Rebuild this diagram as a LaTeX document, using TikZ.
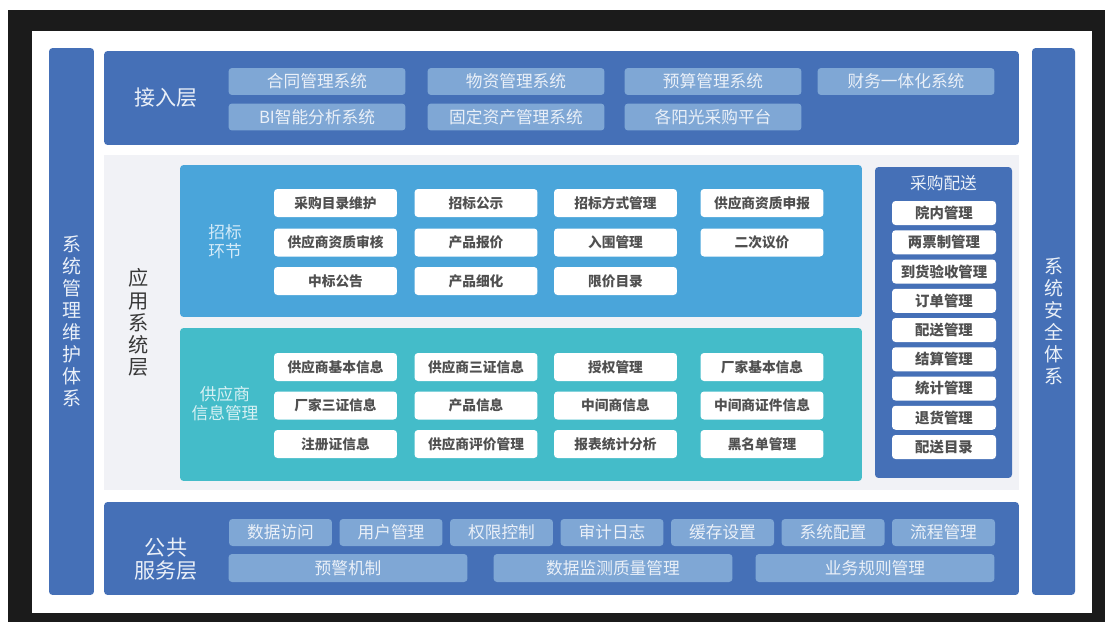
\documentclass[tikz,border=0pt]{standalone}
\usepackage{fontspec}
\setmainfont{Noto Sans CJK SC}
\usepackage{tikz}

\definecolor{framedark}{HTML}{1B1B1B}
\definecolor{layerblue}{HTML}{4570B7}
\definecolor{itemblue}{HTML}{7FA7D5}
\definecolor{itemtext}{HTML}{EAF0F8}
\definecolor{midgray}{HTML}{F1F2F6}
\definecolor{bidblue}{HTML}{4AA5DA}
\definecolor{supteal}{HTML}{44BCC9}
\definecolor{boxtext}{HTML}{505050}
\definecolor{bidlabel}{HTML}{D5EBF8}
\definecolor{suplabel}{HTML}{D8F1F4}

\tikzset{
  layerbox/.style={fill=layerblue, rounded corners=2pt, inner sep=0pt},
  topitem/.style={fill=itemblue, text=itemtext, rounded corners=2pt, inner sep=0pt,
    minimum width=3.54cm, minimum height=0.54cm, font=\fontsize{9.5}{11}\selectfont},
  wbox/.style={fill=white, text=boxtext, rounded corners=2pt, inner sep=0pt,
    minimum width=2.46cm, minimum height=0.56cm, font=\fontsize{7.8}{9}\selectfont\bfseries},
  psbox/.style={wbox, minimum width=2.08cm, minimum height=0.48cm,
    font=\fontsize{8.2}{9}\selectfont\bfseries},
  pubitem/.style={topitem, minimum width=2.06cm},
  pubwide/.style={topitem, minimum width=4.78cm, minimum height=0.56cm},
  sidebar/.style={layerbox, minimum width=0.9cm, minimum height=10.94cm, text=itemtext,
    align=center, font=\fontsize{10.8}{12.5}\selectfont},
  sectlbl/.style={align=center, font=\fontsize{9.5}{10.8}\selectfont},
  layerlbl/.style={text=itemtext, align=center, font=\fontsize{12}{13.2}\selectfont},
}

\begin{document}
\begin{tikzpicture}[x=0.02cm, y=-0.02cm]
  % frame
  \fill[white] (0,0) rectangle (1105,622);
  \fill[framedark] (8,10) rectangle (1105,622);
  \fill[white] (32,31) rectangle (1092,613);
  \useasboundingbox (0,0) rectangle (1105,622);

  % side bars
  \node[sidebar] (maint) at (71.5,321.5) {系\\统\\管\\理\\维\\护\\体\\系};
  \node[sidebar, minimum width=0.86cm] (safety) at (1053.5,321.5) {系\\统\\安\\全\\体\\系};

  % access layer
  \node[layerbox, minimum width=18.3cm, minimum height=1.88cm] (access) at (561.5,98) {};
  \node[layerlbl] (accesslbl) at (166,98) {接入层};
  \node[topitem] (contract) at (317,81.5) {合同管理系统};
  \node[topitem] (material) at (516,81.5) {物资管理系统};
  \node[topitem] (budget) at (713,81.5) {预算管理系统};
  \node[topitem] (finance) at (906,81.5) {财务一体化系统};
  \node[topitem] (bi) at (317,117) {BI智能分析系统};
  \node[topitem] (assets) at (516,117) {固定资产管理系统};
  \node[topitem] (sunshine) at (713,117) {各阳光采购平台};

  % application layer
  \node[fill=midgray, inner sep=0pt, minimum width=18.3cm, minimum height=6.7cm] (app) at (561.5,322.5) {};
  \node[text=black!78, align=center, font=\fontsize{11.5}{12.6}\selectfont] (applbl) at (139,322.5) {应\\用\\系\\统\\层};

  % bidding
  \node[fill=bidblue, rounded corners=2pt, inner sep=0pt, minimum width=13.64cm, minimum height=3.04cm] (bid) at (521,241) {};
  \node[sectlbl, text=bidlabel] (bidlbl) at (225,242) {招标\\环节};
  \node[wbox] (catalog) at (335.5,203) {采购目录维护};
  \node[wbox] (notice) at (476,203) {招标公示};
  \node[wbox] (method) at (615.5,203) {招标方式管理};
  \node[wbox] (qualrep) at (762,203) {供应商资质申报};
  \node[wbox] (qualchk) at (335.5,242.5) {供应商资质审核};
  \node[wbox] (quote) at (476,242.5) {产品报价};
  \node[wbox] (shortlist) at (615.5,242.5) {入围管理};
  \node[wbox] (rebid) at (762,242.5) {二次议价};
  \node[wbox] (award) at (335.5,281) {中标公告};
  \node[wbox] (refine) at (476,281) {产品细化};
  \node[wbox] (pricecap) at (615.5,281) {限价目录};

  % supplier info
  \node[fill=supteal, rounded corners=2pt, inner sep=0pt, minimum width=13.64cm, minimum height=3.06cm] (sup) at (521,404.5) {};
  \node[sectlbl, text=suplabel] (suplbl) at (225,403.5) {供应商\\信息管理};
  \node[wbox] (supbase) at (335.5,367) {供应商基本信息};
  \node[wbox] (supcert) at (476,367) {供应商三证信息};
  \node[wbox] (auth) at (615.5,367) {授权管理};
  \node[wbox] (mfrbase) at (762,367) {厂家基本信息};
  \node[wbox] (mfrcert) at (335.5,405.5) {厂家三证信息};
  \node[wbox] (prodinfo) at (476,405.5) {产品信息};
  \node[wbox] (agent) at (615.5,405.5) {中间商信息};
  \node[wbox] (agentcert) at (762,405.5) {中间商证件信息};
  \node[wbox] (regcert) at (335.5,444) {注册证信息};
  \node[wbox] (rating) at (476,444) {供应商评价管理};
  \node[wbox] (report) at (615.5,444) {报表统计分析};
  \node[wbox] (blacklist) at (762,444) {黑名单管理};

  % purchase delivery
  \node[layerbox, minimum width=2.74cm, minimum height=6.22cm] (deliv) at (943.5,322.5) {};
  \node[sectlbl, text=itemtext] (delivlbl) at (943.5,183) {采购配送};
  \node[psbox] (inhouse) at (944,213) {院内管理};
  \node[psbox] (twoinv) at (944,242.25) {两票制管理};
  \node[psbox] (accept) at (944,271.5) {到货验收管理};
  \node[psbox] (order) at (944,300.75) {订单管理};
  \node[psbox] (dispatch) at (944,330) {配送管理};
  \node[psbox] (settle) at (944,359.25) {结算管理};
  \node[psbox] (stats) at (944,388.5) {统计管理};
  \node[psbox] (returns) at (944,417.75) {退货管理};
  \node[psbox] (delivcat) at (944,447) {配送目录};

  % public service layer
  \node[layerbox, minimum width=18.3cm, minimum height=1.86cm] (pub) at (561.5,548.5) {};
  \node[layerlbl] (publbl) at (166,559.5) {公共\\服务层};
  \node[pubitem] (dataacc) at (280.5,532.5) {数据访问};
  \node[pubitem] (users) at (391,532.5) {用户管理};
  \node[pubitem] (perms) at (501.5,532.5) {权限控制};
  \node[pubitem] (audit) at (612,532.5) {审计日志};
  \node[pubitem] (cache) at (722.5,532.5) {缓存设置};
  \node[pubitem] (config) at (833,532.5) {系统配置};
  \node[pubitem] (flow) at (943.5,532.5) {流程管理};
  \node[pubwide] (alert) at (348,568) {预警机制};
  \node[pubwide] (dataqual) at (613,568) {数据监测质量管理};
  \node[pubwide] (rules) at (875,568) {业务规则管理};
\end{tikzpicture}
\end{document}
